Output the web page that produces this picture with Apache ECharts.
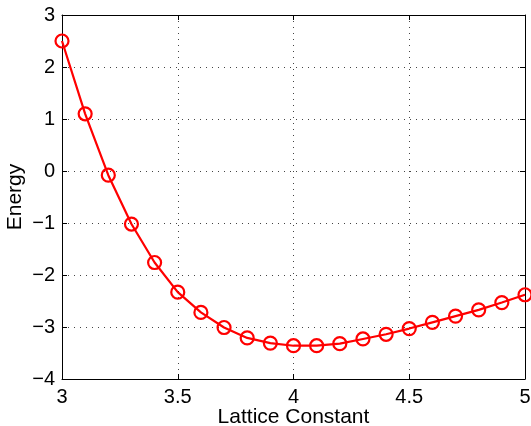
<!DOCTYPE html>
<html>
<head>
<meta charset="utf-8">
<script src="https://cdn.jsdelivr.net/npm/echarts@6/dist/echarts.min.js"></script>
<style>
  html, body { margin: 0; padding: 0; background: #fff; }
  #chart { width: 531px; height: 426px; }
</style>
</head>
<body>
<div id="chart"></div>
<script>
// Lattice constant sweep and total energy at each step
const latticeConstant = [3.0, 3.1, 3.2, 3.3, 3.4, 3.5, 3.6, 3.7, 3.8, 3.9, 4.0,
                         4.1, 4.2, 4.3, 4.4, 4.5, 4.6, 4.7, 4.8, 4.9, 5.0];
const energy = [2.50, 1.10, -0.08, -1.02, -1.76, -2.33, -2.72, -3.01, -3.21, -3.31, -3.36,
                -3.36, -3.32, -3.23, -3.14, -3.03, -2.91, -2.79, -2.67, -2.53, -2.38];

const xTicks = { min: 3, max: 5, step: 0.5 };
const yTicks = { min: -4, max: 3, step: 1 };

const font = 'Liberation Sans, Arial, Helvetica, sans-serif';
const minus = v => String(v).replace('-', '\u2212');

const chart = echarts.init(document.getElementById('chart'));

const boxAxisLine = { show: true, onZero: false, lineStyle: { color: '#000', width: 1 } };
const innerTick = { show: true, inside: true, length: 5, lineStyle: { color: '#000' } };
const dotted = { show: true, lineStyle: { color: '#444', width: 1, type: [1, 5] } };

chart.setOption({
  animation: false,
  backgroundColor: '#fff',
  grid: { left: 62, right: 6, top: 15, bottom: 47, containLabel: false, outerBoundsMode: 'none' },
  xAxis: [
    {
      type: 'value', min: xTicks.min, max: xTicks.max, interval: xTicks.step,
      position: 'bottom',
      name: 'Lattice Constant', nameLocation: 'middle', nameGap: 28, nameMoveOverlap: false,
      nameTextStyle: { fontFamily: font, fontSize: 21, color: '#000' },
      axisLine: boxAxisLine, axisTick: innerTick,
      axisLabel: { fontFamily: font, fontSize: 20, color: '#000', margin: 8, formatter: minus },
      splitLine: dotted
    },
    {
      type: 'value', min: xTicks.min, max: xTicks.max, interval: xTicks.step,
      position: 'top',
      axisLine: boxAxisLine, axisTick: innerTick,
      axisLabel: { show: false }, splitLine: { show: false }
    }
  ],
  yAxis: [
    {
      type: 'value', min: yTicks.min, max: yTicks.max, interval: yTicks.step,
      position: 'left',
      name: 'Energy', nameLocation: 'middle', nameGap: 36, nameRotate: 90, nameMoveOverlap: false,
      nameTextStyle: { fontFamily: font, fontSize: 21, color: '#000' },
      axisLine: boxAxisLine, axisTick: innerTick,
      axisLabel: { fontFamily: font, fontSize: 20, color: '#000', margin: 7, formatter: minus },
      splitLine: dotted
    },
    {
      type: 'value', min: yTicks.min, max: yTicks.max, interval: yTicks.step,
      position: 'right',
      axisLine: boxAxisLine, axisTick: innerTick,
      axisLabel: { show: false }, splitLine: { show: false }
    }
  ],
  series: [{
    type: 'line',
    data: latticeConstant.map((x, i) => [x, energy[i]]),
    symbol: 'circle',
    symbolSize: 13,
    showAllSymbol: true,
    lineStyle: { color: '#ff0000', width: 2.2 },
    itemStyle: { color: 'rgba(255,255,255,0)', borderColor: '#ff0000', borderWidth: 2.2 },
    clip: false
  }]
});
</script>
</body>
</html>
